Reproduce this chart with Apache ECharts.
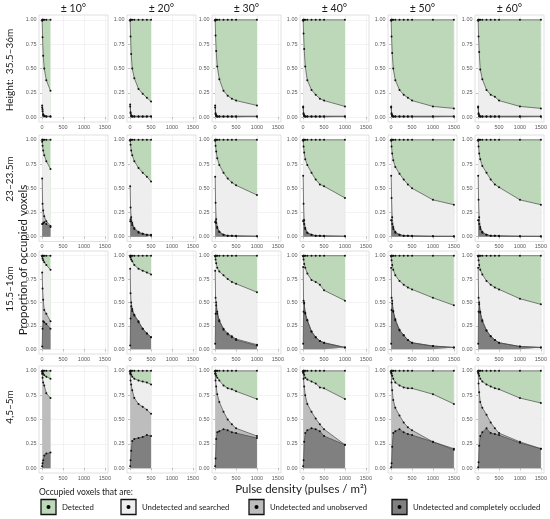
<!DOCTYPE html>
<html><head><meta charset="utf-8">
<script src="https://cdn.jsdelivr.net/npm/echarts@6/dist/echarts.min.js"></script>
<style>html,body{margin:0;padding:0;background:#fff}#c{width:550px;height:519px}</style>
</head><body><div id="c"></div>
<script>
// ---------- data ----------
const pulseDensity = [1, 10, 25, 50, 100, 200, 300, 400, 500, 1000, 1500];
const maxDensityByAngle = [200, 500, 1000, 1000, 1500, 1500];
const angleLabels = ['± 10°', '± 20°', '± 30°', '± 40°', '± 50°', '± 60°'];
const heightLabels = ['Height:  35.5–36m', '23–23.5m', '15.5–16m', '4,5–5m'];
const xTickValues = [0, 500, 1000, 1500];
const yTickValues = [0, 0.25, 0.5, 0.75, 1];
const classNames = ['Detected', 'Undetected and searched', 'Undetected and unobserved', 'Undetected and completely occluded'];
const TOTAL = 1.0; // all occupied voxels

// Upper edge of "undetected and searched" (detected fills from here to 1)
const searchedTop_h35 = [
  [0.99, 0.82, 0.63, 0.50, 0.38, 0.27],
  [0.99, 0.83, 0.65, 0.50, 0.40, 0.29, 0.24, 0.20, 0.16],
  [0.99, 0.84, 0.68, 0.52, 0.39, 0.27, 0.22, 0.19, 0.17, 0.12],
  [0.99, 0.86, 0.70, 0.52, 0.38, 0.28, 0.23, 0.19, 0.17, 0.11],
  [0.99, 0.83, 0.66, 0.50, 0.38, 0.28, 0.23, 0.20, 0.17, 0.11, 0.09],
  [0.99, 0.83, 0.67, 0.49, 0.39, 0.28, 0.23, 0.21, 0.17, 0.11, 0.09]
];
const searchedTop_h23 = [
  [0.98, 0.94, 0.89, 0.84, 0.78, 0.70],
  [0.99, 0.95, 0.89, 0.84, 0.78, 0.71, 0.66, 0.62, 0.57],
  [0.99, 0.94, 0.88, 0.81, 0.74, 0.66, 0.60, 0.56, 0.53, 0.43],
  [0.99, 0.93, 0.87, 0.80, 0.74, 0.66, 0.59, 0.54, 0.52, 0.40],
  [0.99, 0.93, 0.86, 0.79, 0.72, 0.65, 0.59, 0.54, 0.50, 0.38, 0.33],
  [0.99, 0.93, 0.86, 0.80, 0.73, 0.66, 0.59, 0.54, 0.51, 0.38, 0.33]
];
const searchedTop_h15 = [
  [0.99, 0.97, 0.95, 0.93, 0.90, 0.85],
  [0.99, 0.98, 0.96, 0.94, 0.90, 0.86, 0.84, 0.82, 0.80],
  [0.99, 0.96, 0.92, 0.87, 0.83, 0.79, 0.75, 0.72, 0.70, 0.61],
  [0.99, 0.96, 0.91, 0.87, 0.81, 0.74, 0.72, 0.69, 0.63, 0.52],
  [0.99, 0.95, 0.90, 0.85, 0.79, 0.73, 0.69, 0.66, 0.64, 0.55, 0.47],
  [0.99, 0.95, 0.90, 0.85, 0.80, 0.73, 0.69, 0.66, 0.64, 0.54, 0.48]
];
const searchedTop_h4 = [
  [0.99, 0.98, 0.97, 0.955, 0.94, 0.92],
  [0.99, 0.98, 0.96, 0.94, 0.92, 0.90, 0.89, 0.88, 0.86],
  [0.99, 0.97, 0.95, 0.93, 0.90, 0.85, 0.82, 0.81, 0.79, 0.71],
  [0.99, 0.98, 0.96, 0.93, 0.91, 0.89, 0.87, 0.83, 0.82, 0.71],
  [0.99, 0.97, 0.95, 0.92, 0.88, 0.85, 0.83, 0.82, 0.82, 0.76, 0.66],
  [0.99, 0.97, 0.95, 0.92, 0.89, 0.86, 0.84, 0.82, 0.81, 0.72, 0.67]
];

// Upper edge of "undetected and unobserved"
const unobservedTop_h35 = [
  [0.12, 0.08, 0.03, 0.015, 0.01, 0.01],
  [0.13, 0.05, 0.02, 0.01, 0.01, 0.01, 0.01, 0.01, 0.01],
  [0.12, 0.04, 0.02, 0.01, 0.01, 0.01, 0.01, 0.01, 0.01, 0.01],
  [0.11, 0.04, 0.02, 0.01, 0.01, 0.01, 0.01, 0.01, 0.01, 0.01],
  [0.11, 0.04, 0.02, 0.01, 0.01, 0.01, 0.01, 0.01, 0.01, 0.01, 0.01],
  [0.11, 0.04, 0.02, 0.01, 0.01, 0.01, 0.01, 0.01, 0.01, 0.01, 0.01]
];
const unobservedTop_h23 = [
  [0.60, 0.34, 0.27, 0.21, 0.16, 0.11],
  [0.52, 0.30, 0.20, 0.14, 0.09, 0.05, 0.03, 0.02, 0.02],
  [0.62, 0.35, 0.18, 0.10, 0.05, 0.02, 0.01, 0.01, 0.01, 0.005],
  [0.63, 0.34, 0.17, 0.09, 0.04, 0.02, 0.01, 0.01, 0.01, 0.005],
  [0.63, 0.40, 0.20, 0.10, 0.05, 0.02, 0.01, 0.01, 0.01, 0.005, 0.005],
  [0.63, 0.38, 0.20, 0.10, 0.05, 0.02, 0.01, 0.01, 0.01, 0.005, 0.005]
];
const unobservedTop_h15 = [
  [0.82, 0.65, 0.53, 0.42, 0.38, 0.30],
  [0.86, 0.60, 0.50, 0.43, 0.37, 0.30, 0.22, 0.17, 0.13],
  [0.84, 0.55, 0.50, 0.40, 0.31, 0.22, 0.17, 0.14, 0.11, 0.05],
  [0.88, 0.52, 0.50, 0.39, 0.31, 0.19, 0.13, 0.09, 0.07, 0.02],
  [0.87, 0.55, 0.52, 0.41, 0.32, 0.21, 0.15, 0.10, 0.07, 0.035, 0.02],
  [0.87, 0.55, 0.50, 0.40, 0.31, 0.20, 0.14, 0.10, 0.07, 0.03, 0.02]
];
const unobservedTop_h4 = [
  [0.97, 0.93, 0.88, 0.85, 0.77, 0.72],
  [0.97, 0.90, 0.86, 0.80, 0.72, 0.66, 0.63, 0.60, 0.56],
  [0.97, 0.90, 0.84, 0.76, 0.68, 0.58, 0.50, 0.45, 0.41, 0.33],
  [0.98, 0.92, 0.84, 0.75, 0.66, 0.58, 0.51, 0.45, 0.40, 0.24],
  [0.98, 0.88, 0.80, 0.70, 0.62, 0.54, 0.47, 0.42, 0.39, 0.27, 0.20],
  [0.98, 0.87, 0.78, 0.68, 0.62, 0.55, 0.47, 0.41, 0.36, 0.27, 0.20]
];

// Upper edge of "undetected and completely occluded"
const occludedTop_h35 = [
  [0.10, 0.06, 0.02, 0.01, 0.005, 0.005],
  [0.11, 0.04, 0.01, 0.005, 0.005, 0.005, 0.005, 0.005, 0.005],
  [0.10, 0.03, 0.01, 0.005, 0.005, 0.005, 0.005, 0.005, 0.005, 0.005],
  [0.10, 0.03, 0.01, 0.005, 0.005, 0.005, 0.005, 0.005, 0.005, 0.005],
  [0.10, 0.03, 0.01, 0.005, 0.005, 0.005, 0.005, 0.005, 0.005, 0.005, 0.005],
  [0.10, 0.03, 0.01, 0.005, 0.005, 0.005, 0.005, 0.005, 0.005, 0.005, 0.005]
];
const occludedTop_h23 = [
  [0.13, 0.13, 0.14, 0.15, 0.13, 0.10],
  [0.16, 0.18, 0.16, 0.12, 0.08, 0.04, 0.03, 0.02, 0.01],
  [0.15, 0.16, 0.14, 0.09, 0.05, 0.02, 0.01, 0.01, 0.005, 0.003],
  [0.16, 0.17, 0.13, 0.08, 0.04, 0.02, 0.01, 0.01, 0.005, 0.003],
  [0.17, 0.17, 0.13, 0.08, 0.04, 0.02, 0.01, 0.01, 0.005, 0.003, 0.002],
  [0.17, 0.17, 0.13, 0.08, 0.04, 0.02, 0.01, 0.01, 0.005, 0.003, 0.002]
];
const occludedTop_h15 = [
  [0.03, 0.22, 0.30, 0.29, 0.27, 0.22],
  [0.04, 0.33, 0.46, 0.41, 0.36, 0.29, 0.22, 0.17, 0.13],
  [0.06, 0.38, 0.47, 0.38, 0.30, 0.21, 0.16, 0.13, 0.10, 0.04],
  [0.06, 0.40, 0.49, 0.38, 0.31, 0.19, 0.13, 0.09, 0.07, 0.02],
  [0.06, 0.42, 0.49, 0.40, 0.31, 0.20, 0.15, 0.10, 0.07, 0.035, 0.02],
  [0.06, 0.40, 0.48, 0.39, 0.30, 0.20, 0.14, 0.10, 0.07, 0.03, 0.02]
];
const occludedTop_h4 = [
  [0.02, 0.05, 0.08, 0.13, 0.15, 0.16],
  [0.02, 0.08, 0.18, 0.28, 0.30, 0.31, 0.32, 0.34, 0.33],
  [0.02, 0.10, 0.30, 0.37, 0.38, 0.40, 0.39, 0.37, 0.36, 0.31],
  [0.02, 0.08, 0.27, 0.36, 0.39, 0.41, 0.40, 0.38, 0.33, 0.24],
  [0.01, 0.05, 0.22, 0.36, 0.38, 0.40, 0.37, 0.35, 0.34, 0.27, 0.19],
  [0.01, 0.06, 0.23, 0.33, 0.37, 0.41, 0.36, 0.35, 0.34, 0.26, 0.20]
];

const searchedRows = [searchedTop_h35, searchedTop_h23, searchedTop_h15, searchedTop_h4];
const unobservedRows = [unobservedTop_h35, unobservedTop_h23, unobservedTop_h15, unobservedTop_h4];
const occludedRows = [occludedTop_h35, occludedTop_h23, occludedTop_h15, occludedTop_h4];

// ---------- layout / style ----------
const colLeft = [39, 127, 212, 300, 388, 475];
const panelWidth = 69;
const rowTop = [15, 135, 251, 366];
const rowHeight = [107, 106.5, 103, 107];
const rowLabelY = [70, 179, 289, 407];
const classColors = ['#bcd8b8', '#eeeeee', '#bdbdbd', '#808080'];
const edgeColor = '#4a4a4a';
const titleFont = 'Lato, "Open Sans", sans-serif';
const tickFont = '"Liberation Sans", Arial, sans-serif';

const grids = [], xAxes = [], yAxes = [], series = [];
let g = 0;
for (let r = 0; r < 4; r++) {
  for (let c = 0; c < 6; c++) {
    grids.push({
      left: colLeft[c], top: rowTop[r], width: panelWidth, height: rowHeight[r],
      show: true, backgroundColor: '#ffffff', borderColor: '#d8d8d8', borderWidth: 0.8
    });
    xAxes.push({
      gridIndex: g, type: 'value', min: -75, max: 1575, splitNumber: 3,
      axisLine: { show: false },
      axisTick: { show: true, length: 2, lineStyle: { color: '#9a9a9a', width: 0.6 }, customValues: xTickValues },
      axisLabel: { customValues: xTickValues, fontSize: 5.5, color: '#5a5a5a', margin: 2, fontFamily: tickFont,
                   formatter: v => String(v) },
      splitLine: { show: true, lineStyle: { color: '#ebebeb', width: 0.6 } }
    });
    yAxes.push({
      gridIndex: g, type: 'value', min: -0.05, max: 1.05,
      axisLine: { show: false },
      axisTick: { show: true, length: 2, lineStyle: { color: '#9a9a9a', width: 0.6 }, customValues: yTickValues },
      axisLabel: { customValues: yTickValues, fontSize: 5.5, color: '#5a5a5a', margin: 2.5, fontFamily: tickFont,
                   formatter: v => v.toFixed(2) },
      splitLine: { show: true, lineStyle: { color: '#ebebeb', width: 0.6 } }
    });
    const xs = pulseDensity.filter(x => x <= maxDensityByAngle[c]);
    const layers = [
      xs.map(() => TOTAL),
      searchedRows[r][c],
      unobservedRows[r][c],
      occludedRows[r][c]
    ];
    layers.forEach((vals, k) => {
      series.push({
        type: 'line', name: classNames[k], xAxisIndex: g, yAxisIndex: g,
        data: xs.map((x, i) => [x, vals[i]]),
        symbol: 'circle', symbolSize: 2, showSymbol: true,
        itemStyle: { color: '#111' },
        lineStyle: { color: edgeColor, width: 0.7 },
        areaStyle: { color: classColors[k], opacity: 1, origin: 0 },
        silent: true, animation: false, z: 2
      });
    });
    g++;
  }
}

// ---------- text & legend ----------
const graphics = [];
angleLabels.forEach((t, c) => {
  graphics.push({ type: 'text', x: colLeft[c] + panelWidth / 2, y: 9,
    style: { text: t, fontSize: 10.5, fontFamily: titleFont, fill: '#1a1a1a', align: 'center', verticalAlign: 'middle' } });
});
heightLabels.forEach((t, r) => {
  graphics.push({ type: 'text', x: 9.5, y: rowLabelY[r], rotation: Math.PI / 2,
    style: { text: t, fontSize: 10, fontFamily: titleFont, fill: '#1a1a1a', align: 'center', verticalAlign: 'middle' } });
});
graphics.push({ type: 'text', x: 23, y: 260, rotation: Math.PI / 2,
  style: { text: 'Proportion of occupied voxels', fontSize: 11.5, fontFamily: titleFont, fill: '#1a1a1a', align: 'center', verticalAlign: 'middle' } });
graphics.push({ type: 'text', x: 301, y: 489,
  style: { text: 'Pulse density (pulses / m²)', fontSize: 11.5, fontFamily: titleFont, fill: '#1a1a1a', align: 'center', verticalAlign: 'middle' } });
graphics.push({ type: 'text', x: 39, y: 492,
  style: { text: 'Occupied voxels that are:', fontSize: 8.5, fontFamily: titleFont, fill: '#1a1a1a', align: 'left', verticalAlign: 'middle' } });
const legendKeyX = [41, 121, 249, 392];
classNames.forEach((name, k) => {
  const x0 = legendKeyX[k], yc = 507;
  graphics.push({ type: 'rect', shape: { x: x0, y: yc - 7.5, width: 15, height: 15 },
    style: { fill: classColors[k], stroke: '#111', lineWidth: 1.3 } });
  graphics.push({ type: 'circle', shape: { cx: x0 + 7.5, cy: yc, r: 2 }, style: { fill: '#000' } });
  graphics.push({ type: 'text', x: x0 + 21, y: yc,
    style: { text: name, fontSize: 7.8, fontFamily: titleFont, fill: '#1a1a1a', align: 'left', verticalAlign: 'middle' } });
});

const chart = echarts.init(document.getElementById('c'), null, { renderer: 'canvas' });
chart.setOption({
  backgroundColor: '#ffffff',
  animation: false,
  grid: grids, xAxis: xAxes, yAxis: yAxes, series: series,
  graphic: graphics
});
</script></body></html>
